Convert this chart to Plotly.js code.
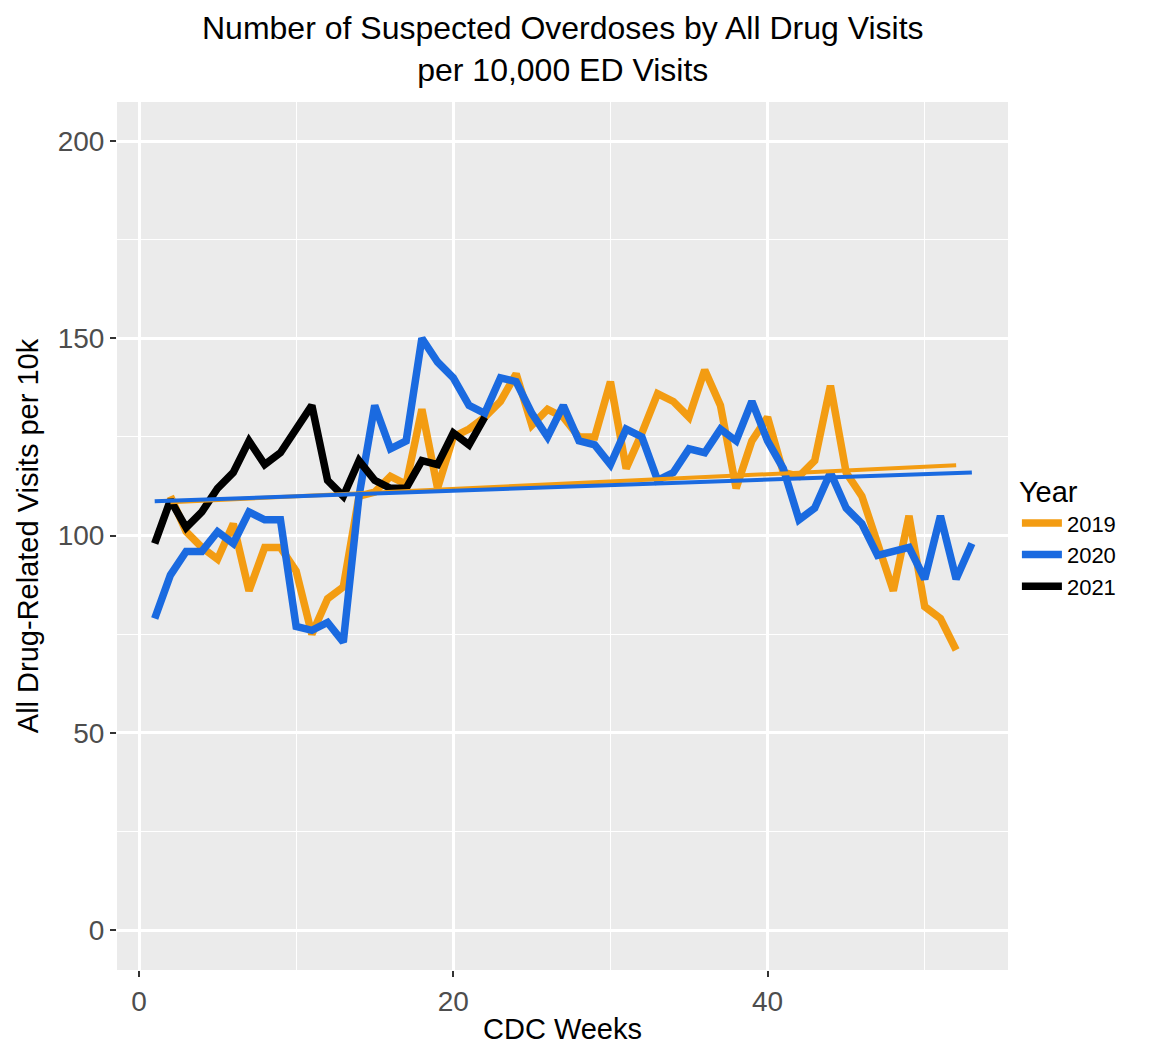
<!DOCTYPE html>
<html>
<head>
<meta charset="utf-8">
<script src="https://cdn.plot.ly/plotly-3.0.1.min.js"></script>
<style>body{margin:0;background:#fff}</style>
</head>
<body>
<div id="chart" style="width:1167px;height:1045px"></div>
<script>
// weekly values
var weeks2019 = [2,3,4,5,6,7,8,9,10,11,12,13,14,15,16,17,18,19,20,21,22,23,24,25,26,27,28,29,30,31,32,33,34,35,36,37,38,39,40,41,42,43,44,45,46,47,48,49,50,51,52];
var vals2019 = [110,101,97,94,103,86,97,97,91,75,84,87,110,111,115,113,132,112,125,127,130,134,141,128,132,130,125,125,139,117,126,136,134,130,142,133,112,124,130,116,115,119,138,116,110,98,86,105,82,79,71];
var weeks2020 = [];
for (var i = 1; i <= 53; i++) weeks2020.push(i);
var vals2020 = [79,90,96,96,101,98,106,104,104,77,76,78,73,110,133,122,124,150,144,140,133,131,140,139,131,125,133,124,123,118,127,125,114,116,122,121,127,124,134,124,117,104,107,116,107,103,95,96,97,89,105,89,98];
var weeks2021 = [1,2,3,4,5,6,7,8,9,10,11,12,13,14,15,16,17,18,19,20,21,22];
var vals2021 = [98,109,102,106,112,116,124,118,121,127,133,114,110,119,114,112,112,119,118,126,123,130];

var colors = {'2019': '#F39C12', '2020': '#1A6AE0', '2021': '#000000'};

function lmLine(x, y) {
  var n = x.length, mx = 0, my = 0;
  for (var i = 0; i < n; i++) { mx += x[i]; my += y[i]; }
  mx /= n; my /= n;
  var sxy = 0, sxx = 0;
  for (var i = 0; i < n; i++) { sxy += (x[i]-mx)*(y[i]-my); sxx += (x[i]-mx)*(x[i]-mx); }
  var b = sxy / sxx, a = my - b*mx;
  var x0 = x[0], x1 = x[n-1];
  return {x: [x0, x1], y: [a + b*x0, a + b*x1]};
}

var data = [];
var sets = [['2019', weeks2019, vals2019], ['2020', weeks2020, vals2020], ['2021', weeks2021, vals2021]];
sets.forEach(function (s) {
  data.push({x: s[1], y: s[2], name: s[0], mode: 'lines', type: 'scatter',
             line: {color: colors[s[0]], width: 7.5}});
});
// linear trend lines for 2019 and 2020
['2019', '2020'].forEach(function (k, j) {
  var t = lmLine(sets[j][1], sets[j][2]);
  data.push({x: t.x, y: t.y, mode: 'lines', type: 'scatter', showlegend: false,
             line: {color: colors[k], width: 4}, hoverinfo: 'skip'});
});

var layout = {
  width: 1167, height: 1045,
  margin: {l: 117, r: 159, t: 102, b: 75},
  paper_bgcolor: '#fff', plot_bgcolor: '#EBEBEB',
  font: {family: 'Liberation Sans, Arial, sans-serif', color: '#000'},
  annotations: [{text: 'Number of Suspected Overdoses by All Drug Visits<br>per 10,000 ED Visits',
          font: {size: 32, color: '#000'}, xref: 'paper', yref: 'paper', x: 0.5, y: 1,
          xanchor: 'center', yanchor: 'bottom', yshift: 12, showarrow: false}],
  xaxis: {range: [-1.4, 55.3], tickvals: [0, 20, 40], ticks: 'outside', ticklen: 6, tickwidth: 2,
          tickcolor: '#333', tickfont: {size: 28, color: '#4D4D4D'}, gridcolor: '#fff', gridwidth: 2.5,
          zeroline: false, showline: false,
          minor: {tickvals: [10, 30, 50], showgrid: true, gridcolor: '#fff', gridwidth: 1.2, ticks: ''},
          title: {text: 'CDC Weeks', font: {size: 29, color: '#000'}, standoff: 4}},
  yaxis: {range: [-10.1, 209.9], tickvals: [0, 50, 100, 150, 200], ticks: 'outside', ticklen: 6, tickwidth: 2,
          tickcolor: '#333', tickfont: {size: 28, color: '#4D4D4D'}, gridcolor: '#fff', gridwidth: 2.5,
          zeroline: false, showline: false,
          minor: {tickvals: [25, 75, 125, 175], showgrid: true, gridcolor: '#fff', gridwidth: 1.2, ticks: ''},
          title: {text: 'All Drug-Related Visits per 10k', font: {size: 29, color: '#000'}, standoff: 10}},
  legend: {x: 1.01, xanchor: 'left', y: 0.5, yanchor: 'middle', bgcolor: 'rgba(0,0,0,0)',
           title: {text: 'Year', font: {size: 29}}, font: {size: 22}, itemwidth: 40, tracegroupgap: 6}
};

Plotly.newPlot('chart', data, layout, {displayModeBar: false});
</script>
</body>
</html>
